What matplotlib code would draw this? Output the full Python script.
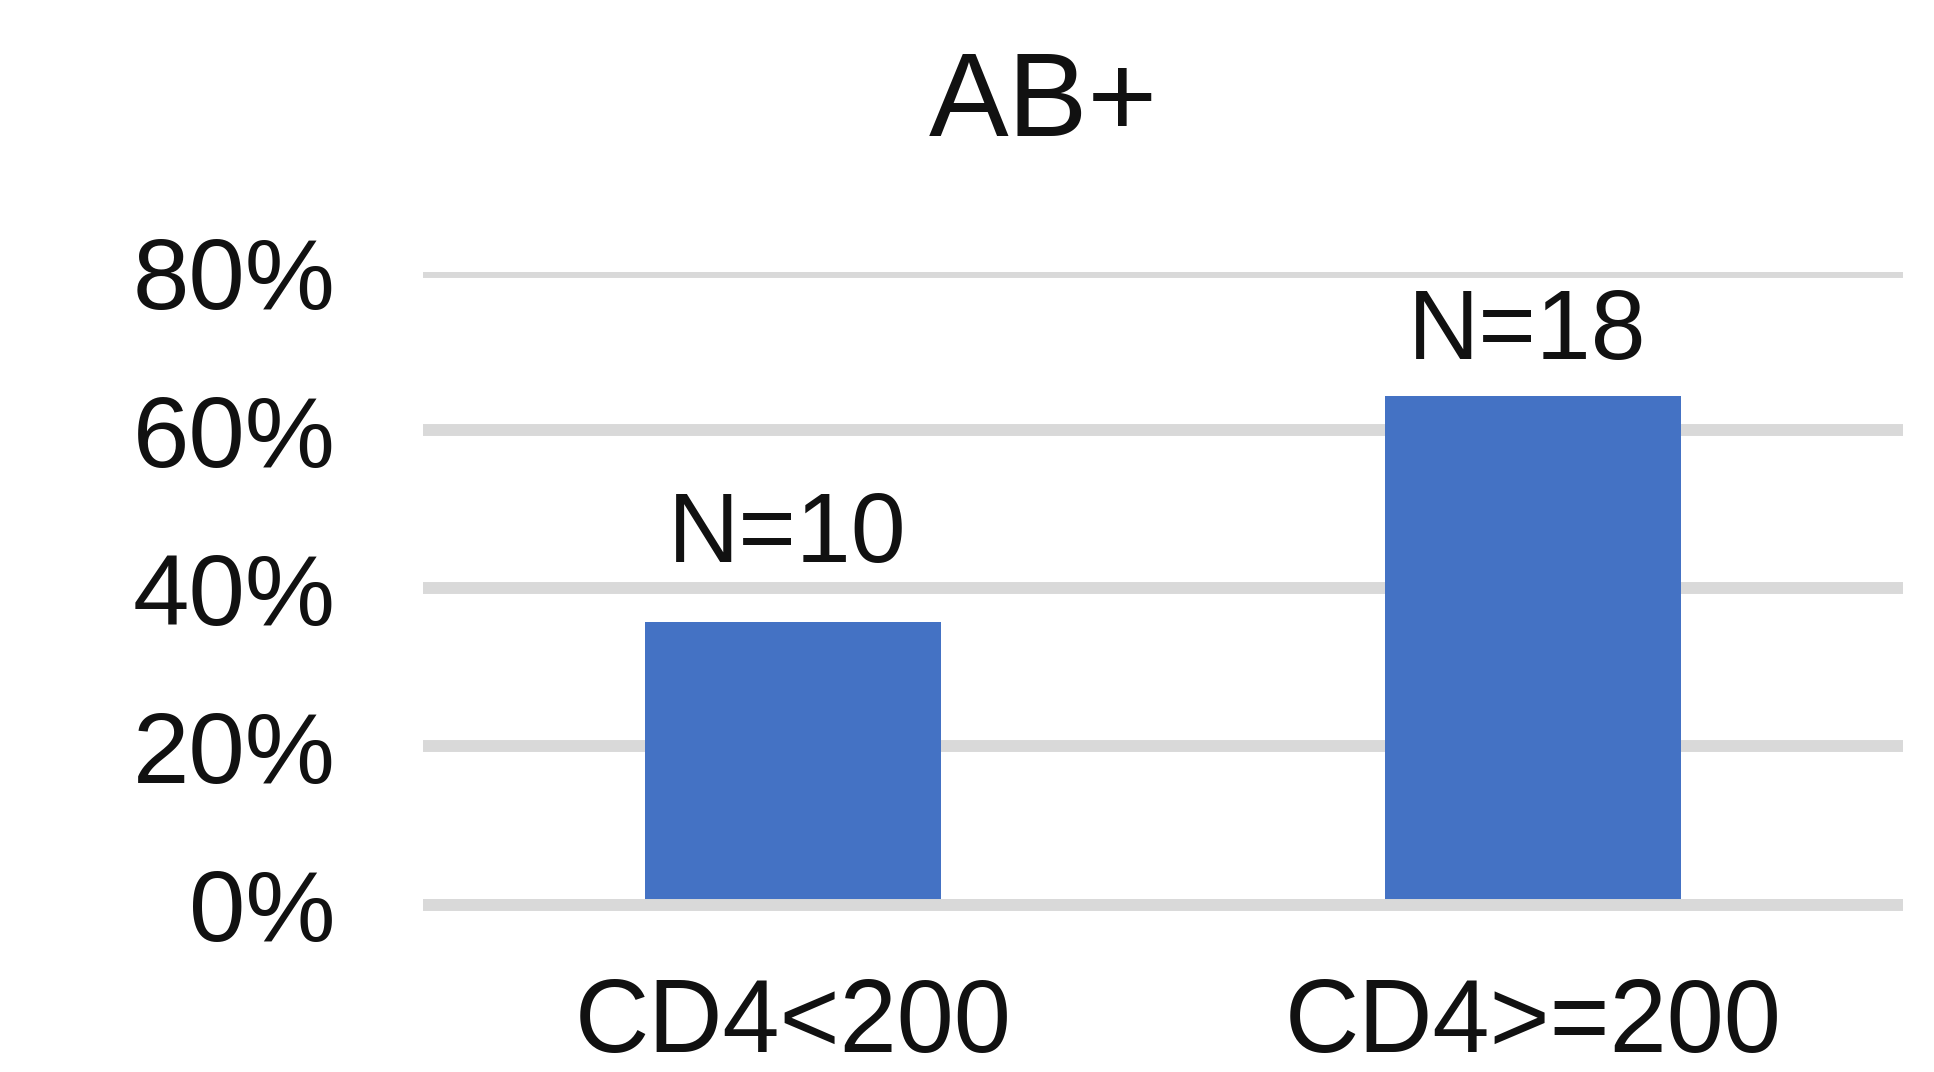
import matplotlib.pyplot as plt
import numpy as np

# data
title = 'AB+'
categories = ['CD4<200', 'CD4>=200']
counts = [10, 18]
shares = [10 / 28, 18 / 28]
labels = ['N=10', 'N=18']
yticks = [0, 0.2, 0.4, 0.6, 0.8]
ytick_labels = ['0%', '20%', '40%', '60%', '80%']

plt.rcParams['font.family'] = ['Liberation Sans', 'DejaVu Sans']
txt = '#111111'
grid_col = '#D9D9D9'

fig = plt.figure(figsize=(19.34, 10.72), dpi=100)
ax = fig.add_axes([423 / 1934, 1 - 904.5 / 1072, (1903 - 423) / 1934, (904.5 - 272) / 1072])

x = np.arange(len(categories))
bars = ax.bar(x, shares, width=0.4, color='#4472C4', zorder=3)

ax.set_xlim(-0.5, 1.5)
ax.set_ylim(0, 0.8)
ax.set_yticks(yticks)
ax.set_yticklabels(ytick_labels)
ax.set_xticks(x)
ax.set_xticklabels(categories)
ax.grid(axis='y', color=grid_col, linewidth=8.6, zorder=0)
ax.set_axisbelow(True)
# baseline sits on top of the bars
ax.axhline(0, color=grid_col, linewidth=8.6, zorder=4, clip_on=False,
           solid_capstyle='butt')
for s in ax.spines.values():
    s.set_visible(False)
ax.tick_params(axis='y', length=0, pad=63, labelsize=73, labelcolor=txt)
ax.tick_params(axis='x', length=0, pad=52, labelsize=74, labelcolor=txt)

# the two labels sit at different gaps above their bars in the original
offsets = [43, 27]
for b, lab, off in zip(bars, labels, offsets):
    ax.annotate(lab, (b.get_x() + b.get_width() / 2, b.get_height()),
                xytext=(-4, off), textcoords='offset points',
                ha='center', va='baseline', fontsize=71, color=txt)

fig.text(1043 / 1934, 1 - 136 / 1072, title, ha='center', va='baseline',
         fontsize=86, color=txt)

fig.savefig('out.png', dpi=100, facecolor='white')
